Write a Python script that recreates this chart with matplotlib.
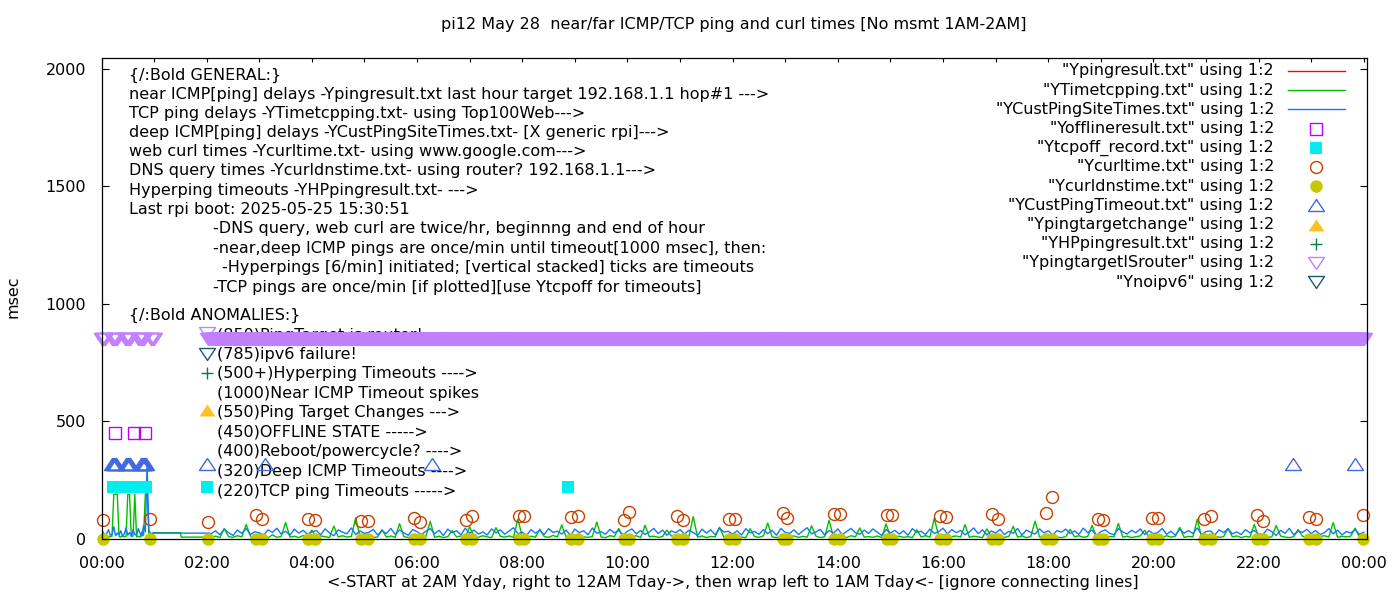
import numpy as np
import matplotlib
matplotlib.use("Agg")
import matplotlib.pyplot as plt
from matplotlib.path import Path
from matplotlib.lines import Line2D
from matplotlib.ticker import MultipleLocator, FuncFormatter

plt.rcParams["font.family"] = ["DejaVu Sans"]
FS = 11.5

# ---------- data (x in minutes after 00:00, y in msec) ----------
PING_MIN = []          # Ypingresult: nothing visible
PING_MS = []

# TCP ping (green line)
TCP_EARLY = [10, 12, 8, 15, 10, 9, 12, 190, 190, 190, 11, 8, 14, 9, 12,
             190, 190, 10, 13, 190, 9, 12, 8, 30, 14, 190, 190, 25, 12, 10]
TCP_GAP_MIN = [59, 90, 91, 123]
TCP_GAP = [27, 27, 8, 8]
TCP_DENSE = [
    8, 12, 6, 45, 10, 7, 14, 9, 62, 11, 6, 13,
    9, 5, 18, 7, 11, 70, 8, 12, 6, 15, 9, 38,
    7, 13, 10, 6, 55, 9, 14, 8, 11, 90, 7, 10,
    12, 6, 9, 40, 8, 13, 7, 65, 10, 6, 14, 9,
    8, 11, 75, 7, 12, 6, 10, 35, 9, 13, 8, 52,
    10, 7, 14, 9, 6, 48, 11, 8, 13, 7, 85, 9,
    6, 12, 8, 42, 10, 7, 15, 9, 60, 8, 11, 6,
    13, 9, 7, 11, 72, 8, 6, 14, 10, 45, 7, 12,
    8, 14, 6, 58, 9, 12, 7, 10, 38, 13, 8, 11,
    7, 10, 95, 8, 13, 6, 11, 9, 50, 7, 14, 8,
    12, 8, 6, 44, 10, 7, 13, 68, 9, 6, 11, 10,
    9, 13, 7, 11, 8, 56, 12, 6, 10, 80, 8, 7,
    11, 6, 14, 9, 47, 8, 10, 7, 13, 6, 64, 9,
    8, 12, 7, 10, 6, 39, 9, 14, 8, 88, 11, 7,
    6, 10, 13, 8, 61, 7, 12, 9, 6, 43, 10, 14,
    9, 7, 11, 54, 8, 13, 6, 10, 76, 9, 7, 12,
    13, 8, 6, 10, 41, 9, 14, 7, 11, 58, 8, 6,
    7, 11, 9, 66, 8, 12, 6, 10, 13, 37, 9, 8,
    10, 6, 14, 8, 12, 49, 7, 11, 9, 84, 6, 13,
    8, 12, 7, 10, 45, 9, 13, 6, 11, 8, 62, 7,
    11, 7, 9, 57, 13, 8, 6, 10, 40, 12, 7, 9,
    6, 10, 14, 8, 70, 7, 11, 9, 12, 46, 8, 10]

# deep ICMP ping (blue line)
CUST_EARLY = [18, 30, 12, 24, 40, 15, 20, 52, 14, 26, 18, 35, 12, 22, 48,
              16, 28, 13, 38, 20, 15, 44, 24, 12, 58, 30, 320, 40, 22, 25]
CUST_GAP_MIN = [123]
CUST_GAP = [25]
CUST_DENSE = [
    22, 35, 18, 41, 27, 15, 38, 24, 44, 19, 31, 26,
    17, 39, 28, 46, 21, 33, 16, 42, 25, 37, 20, 30,
    36, 18, 43, 26, 14, 39, 29, 22, 47, 19, 34, 24,
    28, 41, 17, 35, 23, 45, 20, 38, 26, 16, 40, 31,
    19, 33, 44, 22, 37, 15, 42, 27, 35, 18, 46, 24,
    38, 21, 30, 17, 43, 26, 39, 20, 34, 48, 23, 29,
    16, 40, 25, 36, 19, 44, 28, 33, 21, 38, 15, 42,
    27, 35, 18, 47, 24, 31, 20, 41, 26, 37, 17, 33,
    43, 22, 36, 19, 30, 45, 23, 38, 16, 34, 27, 40,
    21, 37, 28, 15, 42, 25, 39, 18, 46, 29, 33, 20,
    35, 17, 44, 26, 32, 20, 40, 23, 37, 16, 45, 28,
    24, 39, 19, 34, 48, 22, 30, 41, 17, 36, 25, 43,
    18, 32, 45, 27, 20, 38, 24, 43, 29, 15, 40, 26,
    37, 21, 35, 16, 44, 28, 33, 19, 42, 24, 31, 46,
    22, 40, 27, 36, 18, 30, 47, 23, 39, 17, 34, 25,
    41, 19, 33, 24, 45, 16, 38, 28, 21, 43, 26, 35,
    17, 36, 29, 42, 23, 34, 20, 46, 27, 38, 15, 31,
    39, 24, 18, 44, 30, 21, 37, 26, 43, 19, 35, 22,
    28, 45, 20, 33, 16, 41, 25, 36, 23, 47, 18, 32,
    34, 17, 39, 27, 43, 22, 30, 19, 40, 26, 36, 21,
    20, 42, 31, 15, 37, 24, 45, 18, 33, 28, 41, 23,
    36, 19, 27, 44, 22, 38, 17, 32, 25, 40, 20, 29]

OFFLINE_MIN = [15, 37, 50]
OFFLINE_MS = [450, 450, 450]

TCPOFF_MIN = [13, 15, 17, 19, 21, 23, 25, 27, 29, 31, 33, 35, 37, 39, 41,
              43, 45, 47, 49, 51, 532]
TCPOFF_MS = [220] * len(TCPOFF_MIN)

CURL_MIN = [2, 55, 122, 176, 183, 235, 243, 296, 304, 356, 363, 416, 423,
            476, 482, 536, 543, 596, 602, 657, 663, 716, 723, 777, 782, 836,
            843, 896, 902, 957, 963, 1016, 1023, 1077, 1084, 1137, 1143,
            1198, 1205, 1258, 1266, 1318, 1325, 1378, 1385, 1439]
CURL_MS = [80, 85, 71, 102, 83, 85, 80, 75, 75, 90, 72, 80, 97, 97, 97, 93,
           97, 80, 114, 97, 80, 85, 85, 110, 89, 106, 106, 102, 102, 97, 93,
           106, 85, 110, 178, 85, 80, 88, 88, 83, 97, 102, 75, 92, 83, 102]

DNS_MIN = list(CURL_MIN)
DNS_MS = [0] * len(DNS_MIN)

CUSTTO_MIN = [12, 13, 14, 15, 16, 17, 28, 29, 30, 31, 32, 33, 45, 46, 47,
              48, 49, 50, 51, 186, 377, 1359, 1430]
CUSTTO_MS = [320] * len(CUSTTO_MIN)

TARGETCHG_MIN, TARGETCHG_MS = [], []
HP_MIN, HP_MS = [], []

ROUTER_EARLY_MIN = [0, 1, 2, 3, 4, 12, 13, 14, 15, 16, 17, 18, 27, 28, 29,
                    30, 31, 32, 33, 42, 43, 44, 45, 46, 47, 48, 56, 57, 58,
                    59, 60]
ROUTER_MS = 850

NOIPV6_MIN, NOIPV6_MS = [], []

GENERAL = [
    "{/:Bold GENERAL:}",
    "near ICMP[ping] delays -Ypingresult.txt last hour target 192.168.1.1 hop#1 --->",
    "TCP ping delays -YTimetcpping.txt- using Top100Web--->",
    "deep ICMP[ping] delays -YCustPingSiteTimes.txt- [X generic rpi]--->",
    "web curl times -Ycurltime.txt- using www.google.com--->",
    "DNS query times -Ycurldnstime.txt- using router? 192.168.1.1--->",
    "Hyperping timeouts -YHPpingresult.txt- --->",
    "Last rpi boot: 2025-05-25 15:30:51",
]
NOTES = [
    ("-DNS query, web curl are twice/hr, beginnng and end of hour", 0),
    ("-near,deep ICMP pings are once/min until timeout[1000 msec], then:", 0),
    ("-Hyperpings [6/min] initiated; [vertical stacked] ticks are timeouts", 1),
    ("-TCP pings are once/min [if plotted][use Ytcpoff for timeouts]", 0),
]
ANOMALIES = [
    "(850)PingTarget is router!", "(785)ipv6 failure!",
    "(500+)Hyperping Timeouts ---->", "(1000)Near ICMP Timeout spikes",
    "(550)Ping Target Changes --->", "(450)OFFLINE STATE ----->",
    "(400)Reboot/powercycle? ---->", "(320)Deep ICMP Timeouts ---->",
    "(220)TCP ping Timeouts ----->",
]
ANOM_TEXT_MS = [866, 786, 705, 620, 538, 455, 370, 287, 203]
ANOM_MARK_MS = [876, 787, 706, 550, 318, 220]

# ---------- styles ----------
TRI_DN = Path([(-1, 0.75), (1, 0.75), (0, -0.75), (-1, 0.75)],
              [Path.MOVETO, Path.LINETO, Path.LINETO, Path.CLOSEPOLY])
TRI_UP = Path([(-1, -0.75), (1, -0.75), (0, 0.75), (-1, -0.75)],
              [Path.MOVETO, Path.LINETO, Path.LINETO, Path.CLOSEPOLY])

C_RED = "#ff0000"; C_GRN = "#00c000"; C_BLU = "#1478f5"
C_OFF = "#c000ff"; C_CYAN = "#00eeee"; C_CURL = "#c84000"
C_DNS = "#c8c800"; C_TRI = "#4169e1"; C_ORG = "#ffc020"
C_HP = "#008040"; C_LAV = "#c080ff"; C_V6 = "#1f5577"

W, H = 1400, 600
def fx(px): return px / W
def fy(py): return 1 - py / H

fig = plt.figure(figsize=(14, 6), dpi=100)
ax = fig.add_axes([fx(101.5), fy(539), fx(1367) - fx(101.5), fy(58) - fy(539)])

hr = lambda m: np.asarray(m, dtype=float) / 60.0
dense_min = np.arange(125, 1441, 5)

tcp_x = np.concatenate([np.arange(0, 60, 2), TCP_GAP_MIN, dense_min])
tcp_y = np.concatenate([TCP_EARLY, TCP_GAP, TCP_DENSE])
cust_x = np.concatenate([np.arange(0, 60, 2), CUST_GAP_MIN, dense_min])
cust_y = np.concatenate([CUST_EARLY, CUST_GAP, CUST_DENSE])
router_x = np.concatenate([ROUTER_EARLY_MIN, np.arange(122, 1441, 1)])

ax.plot(hr(PING_MIN), PING_MS, color=C_RED, lw=1.0)
ax.plot(hr(tcp_x), tcp_y, color=C_GRN, lw=1.0)
ax.plot(hr(cust_x), cust_y, color=C_BLU, lw=1.0)

pk = dict(linestyle="none", clip_on=False)
ax.plot(hr(OFFLINE_MIN), OFFLINE_MS, marker="s", ms=8.6, mfc="none", mec=C_OFF, mew=1, **pk)
ax.plot(hr(TCPOFF_MIN), TCPOFF_MS, marker="s", ms=9, mfc=C_CYAN, mec=C_CYAN, mew=0, **pk)
ax.plot(hr(CURL_MIN), CURL_MS, marker="o", ms=8.6, mfc="none", mec=C_CURL, mew=1, **pk)
ax.plot(hr(DNS_MIN), DNS_MS, marker="o", ms=9, mfc=C_DNS, mec=C_DNS, mew=0, **pk)
ax.plot(hr(CUSTTO_MIN), CUSTTO_MS, marker=TRI_UP, ms=11.5, mfc="none", mec=C_TRI, mew=1, **pk)
ax.plot(hr(TARGETCHG_MIN), TARGETCHG_MS, marker=TRI_UP, ms=11.5, mfc=C_ORG, mec=C_ORG, **pk)
ax.plot(hr(HP_MIN), HP_MS, marker="+", ms=9, mec=C_HP, mew=1, **pk)
ax.plot(hr(router_x), [ROUTER_MS] * len(router_x), marker=TRI_DN, ms=11.5,
        mfc="none", mec=C_LAV, mew=1, **pk)
ax.plot(hr(NOIPV6_MIN), NOIPV6_MS, marker=TRI_DN, ms=11.5, mfc="none", mec=C_V6, mew=1, **pk)

# label points next to anomaly texts (drawn behind data)
lp = dict(linestyle="none", clip_on=False, zorder=1.5)
mk_styles = [
    dict(marker=TRI_DN, ms=11.5, mfc="none", mec=C_LAV, mew=1),
    dict(marker=TRI_DN, ms=11.5, mfc="none", mec=C_V6, mew=1),
    dict(marker="+", ms=9, mec=C_HP, mew=1),
    dict(marker=TRI_UP, ms=11.5, mfc=C_ORG, mec=C_ORG, mew=0),
    dict(marker=TRI_UP, ms=11.5, mfc="none", mec=C_TRI, mew=1),
    dict(marker="s", ms=9, mfc=C_CYAN, mec=C_CYAN, mew=0),
]
for val, st in zip(ANOM_MARK_MS, mk_styles):
    ax.plot([2.0], [val], **st, **lp)
for txt, val in zip(ANOMALIES, ANOM_TEXT_MS):
    ax.text(2.2, val, txt, fontsize=FS, va="center", ha="left", zorder=1)

# general notes block
for i, line in enumerate(GENERAL):
    fig.text(fx(129), fy(75 + i * 19.2), line, fontsize=FS, va="center", zorder=1)
for i, (line, extra) in enumerate(NOTES):
    fig.text(fx(213 + 9 * extra), fy(229 + i * 19.4), line, fontsize=FS, va="center", zorder=1)
fig.text(fx(129), fy(315), "{/:Bold ANOMALIES:}", fontsize=FS, va="center", zorder=1)

# axes
ax.set_xlim(0, 24.06)
ax.set_ylim(0, 2045)
ax.xaxis.set_major_locator(MultipleLocator(2))
ax.xaxis.set_minor_locator(MultipleLocator(1))
ax.xaxis.set_major_formatter(FuncFormatter(lambda v, p: f"{int(round(v)) % 24:02d}:00"))
ax.yaxis.set_major_locator(MultipleLocator(500))
ax.tick_params(axis="both", which="both", direction="in", top=True, right=True,
               labelsize=FS, width=0.8)
ax.tick_params(axis="x", which="both", length=3, pad=12)
ax.tick_params(axis="y", length=5, pad=11)
for s in ax.spines.values():
    s.set_linewidth(0.9)

fig.text(fx(734), fy(25), "pi12 May 28  near/far ICMP/TCP ping and curl times [No msmt 1AM-2AM]",
         fontsize=FS, ha="center", va="center")
fig.text(fx(733), fy(583), "<-START at 2AM Yday, right to 12AM Tday->, then wrap left to 1AM Tday<- [ignore connecting lines]",
         fontsize=FS, ha="center", va="center")
fig.text(fx(13), fy(297), "msec", fontsize=FS, ha="center", va="center", rotation=90)

# key (gnuplot style: right-aligned text, sample on the right)
KEY = [
    ('"Ypingresult.txt" using 1:2', dict(color=C_RED, lw=1.0)),
    ('"YTimetcpping.txt" using 1:2', dict(color=C_GRN, lw=1.0)),
    ('"YCustPingSiteTimes.txt" using 1:2', dict(color=C_BLU, lw=1.0)),
    ('"Yofflineresult.txt" using 1:2', dict(marker="s", ms=8.6, mfc="none", mec=C_OFF, mew=1)),
    ('"Ytcpoff_record.txt" using 1:2', dict(marker="s", ms=9, mfc=C_CYAN, mec=C_CYAN, mew=0)),
    ('"Ycurltime.txt" using 1:2', dict(marker="o", ms=8.6, mfc="none", mec=C_CURL, mew=1)),
    ('"Ycurldnstime.txt" using 1:2', dict(marker="o", ms=9, mfc=C_DNS, mec=C_DNS, mew=0)),
    ('"YCustPingTimeout.txt" using 1:2', dict(marker=TRI_UP, ms=11.5, mfc="none", mec=C_TRI, mew=1)),
    ('"Ypingtargetchange" using 1:2', dict(marker=TRI_UP, ms=11.5, mfc=C_ORG, mec=C_ORG, mew=0)),
    ('"YHPpingresult.txt" using 1:2', dict(marker="+", ms=9, mec=C_HP, mew=1)),
    ('"YpingtargetISrouter" using 1:2', dict(marker=TRI_DN, ms=11.5, mfc="none", mec=C_LAV, mew=1)),
    ('"Ynoipv6" using 1:2', dict(marker=TRI_DN, ms=11.5, mfc="none", mec=C_V6, mew=1)),
]
for i, (lab, st) in enumerate(KEY):
    yy = fy(71 + i * 19.2)
    fig.text(fx(1274), yy, lab, fontsize=FS, ha="right", va="center")
    if "marker" in st:
        fig.add_artist(Line2D([fx(1316)], [yy], linestyle="none", **st))
    else:
        fig.add_artist(Line2D([fx(1288), fx(1345)], [yy, yy], **st))

fig.savefig("out.png", dpi=100)
